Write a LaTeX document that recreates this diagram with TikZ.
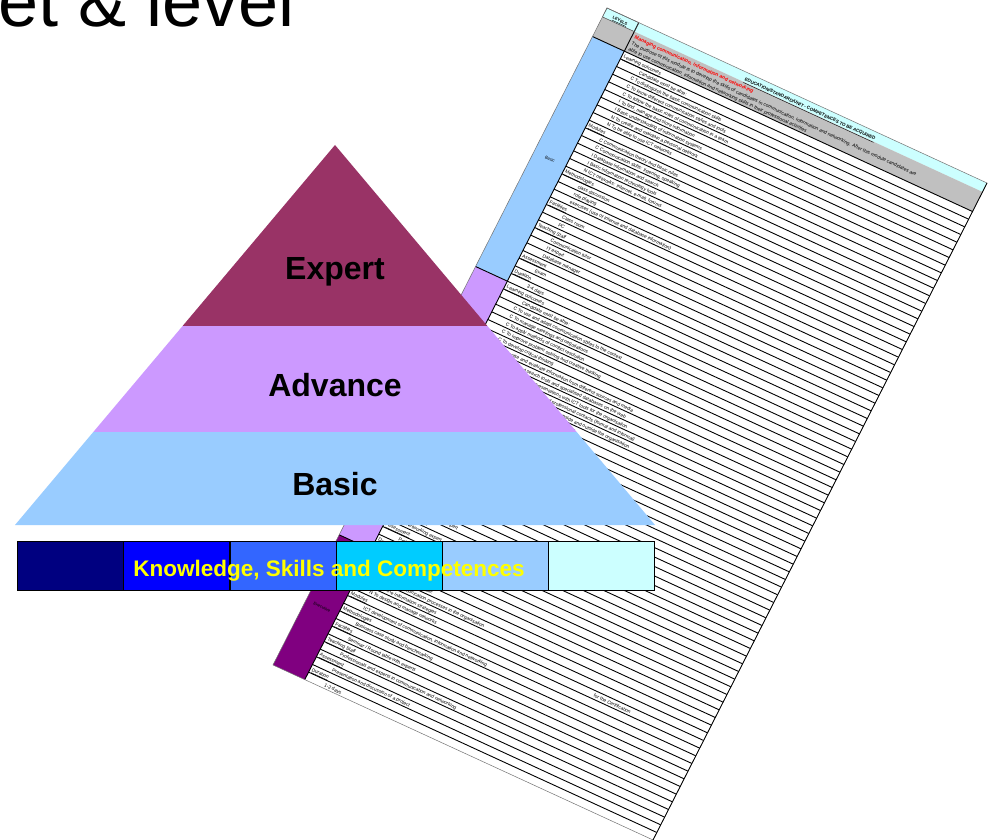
\documentclass[tikz,border=0pt]{standalone}
\usepackage{tikz}
\usepackage{fontspec}
\setmainfont{Liberation Sans}
\definecolor{expertc}{HTML}{993366}
\definecolor{advc}{HTML}{CC99FF}
\definecolor{basicc}{HTML}{99CCFF}
\definecolor{execc}{HTML}{800080}
\definecolor{cyanc}{HTML}{CCFFFF}
\definecolor{grayc}{HTML}{C0C0C0}
\definecolor{barA}{HTML}{000080}
\definecolor{barB}{HTML}{0000FF}
\definecolor{barC}{HTML}{3366FF}
\definecolor{barD}{HTML}{00CCFF}
\definecolor{barE}{HTML}{99CCFF}
\definecolor{barF}{HTML}{CCFFFF}
\definecolor{titleyellow}{HTML}{FFFF00}
\newcommand\shrow[3]{\node[rowtxt] (row#1) at (#2,{32+8.6*#1+6.6}) {#3};}
\begin{document}
\begin{tikzpicture}[x=1pt,y=-1pt,
  rowline/.style={line width=0.9pt, black},
  rowtxt/.style={anchor=base west, inner sep=0pt, font=\fontsize{4.8}{5}\selectfont, text=black},
  lvltxt/.style={anchor=center, inner sep=0pt, font=\fontsize{4.2}{5}\selectfont, text=black},
  pyrlabel/.style={anchor=base, inner sep=0pt, font=\fontsize{32}{36}\selectfont\bfseries, text=black},
  barcell/.style={draw=black, line width=1.2pt, minimum width=106.2pt, minimum height=49pt, inner sep=0pt, anchor=north west},
  bartext/.style={anchor=base, inner sep=0pt, font=\fontsize{22.5}{26}\selectfont\bfseries, text=titleyellow},
  bigtitle/.style={anchor=base east, inner sep=0pt, font=\fontsize{72}{80}\selectfont, text=black}]
\useasboundingbox (0,0) rectangle (988,840);
\fill[white] (0,0) rectangle (988,840);
\clip (0,0) rectangle (988,840);

% ---------- rotated spreadsheet ----------
\begin{scope}[cm={0.9083,-0.4183,0.4532,0.8914,(607,8)}, transform shape]
  \fill[white] (0,0) rectangle (418.4,737);
  \fill[cyanc] (0,0) rectangle (418.4,10);
  \fill[grayc] (0,10) rectangle (418.4,32);
  \fill[basicc] (0,32) rectangle (35,290);
  \fill[advc] (0,290) rectangle (35,591);
  \fill[execc] (0,591) rectangle (35,737);
  \foreach \k in {0,...,81} \draw[rowline] (35,{32+8.6*\k}) -- (418.4,{32+8.6*\k});
  \draw[rowline] (0,32) -- (35,32);
  \draw[rowline] (0,290) -- (35,290);
  \draw[rowline] (0,591) -- (35,591);
  \draw[rowline] (35,0) -- (35,737);
  \draw[line width=0.5pt, black!70] (0,0) rectangle (35,10);
  \draw[line width=0.5pt, black!55] (0,0) rectangle (418.4,737);
  \draw[line width=0.8pt, black] (418.4,0) -- (418.4,737);
  \node[anchor=base, inner sep=0pt, font=\fontsize{4}{5}\selectfont\bfseries] (levels) at (17.5,7.5) {\underline{LEVELS}};
  \node[anchor=base, inner sep=0pt, font=\fontsize{4.5}{5}\selectfont\bfseries] (edutitle) at (227,8.3) {\underline{EDUCATION/STANDARD/UNIT - COMPETENCES TO BE ACQUIRED}};
  \node[anchor=base west, inner sep=0pt, font=\fontsize{5}{6}\selectfont\bfseries, text=red] (modtitle) at (38,16.5) {Managing communication, information and networking};
  \node[anchor=base west, inner sep=0pt, font=\fontsize{4.9}{6}\selectfont] (desca) at (38,23.5) {The purpose of this module is to develop the skills of candidates in communication, information and networking. After this module candidates are};
  \node[anchor=base west, inner sep=0pt, font=\fontsize{4.9}{6}\selectfont] (descb) at (38,30) {able to use communication, information and networking skills in their professional activities};
  \node[lvltxt] (lvlbasic) at (17.5,161) {Basic};
  \node[lvltxt] (lvlexec) at (17.5,664) {Executive};
  % basic
  \shrow{0}{37}{\underline{Learning outcomes}}
  \shrow{1}{58}{Candidate must be able:}
  \shrow{2}{53}{C To distinguish the basic communication skills}
  \shrow{3}{53}{C To know different communication styles and tools}
  \shrow{4}{53}{C To follow the basic rules of communication in a team}
  \shrow{5}{53}{I To find, manage and store information}
  \shrow{6}{53}{I Basic understanding of information systems}
  \shrow{7}{53}{N To create and maintain a personal network}
  \shrow{8}{53}{N To be able to use ICT networks}
  \shrow{9}{37}{\underline{Modules}}
  \shrow{10}{53}{C Communication theory and basic rules}
  \shrow{11}{53}{C Communication skills: listening, speaking}
  \shrow{12}{53}{I Database information and search}
  \shrow{13}{53}{I Basic information technology tools}
  \shrow{14}{53}{N ICT networks: Internet, e-mail, forums}
  \shrow{15}{37}{\underline{Methodologies}}
  \shrow{16}{55}{class discussion}
  \shrow{17}{55}{role playing}
  \shrow{18}{55}{exercises (use of Internet and database information)}
  \shrow{19}{37}{\underline{Facilities}}
  \shrow{20}{55}{Class room}
  \shrow{21}{55}{PC}
  \shrow{22}{37}{\underline{Teaching Staff}}
  \shrow{23}{55}{Communication tutor}
  \shrow{24}{55}{IT expert}
  \shrow{25}{55}{Database manager}
  \shrow{26}{37}{\underline{Assessment}}
  \shrow{27}{55}{Exam}
  \shrow{28}{37}{\underline{Duration}}
  \shrow{29}{55}{3-4 days}
  % advance
  \shrow{30}{37}{\underline{Learning outcomes}}
  \shrow{31}{58}{Candidate must be able:}
  \shrow{32}{53}{C To use and adapt communication styles to the context}
  \shrow{33}{53}{C To manage meetings and negotiations}
  \shrow{34}{53}{C To apply methods of conflict resolution}
  \shrow{35}{53}{C To improve problem solving and creative thinking}
  \shrow{36}{53}{C To develop critical thinking}
  \shrow{37}{53}{I To organise and evaluate information from different sources and media}
  \shrow{38}{53}{I To use advanced search tools and specialised databases on the web}
  \shrow{39}{53}{I To produce reports and presentations with ICT tools for the organisation}
  \shrow{40}{53}{N To build and manage networks of professional contacts (formal and informal)}
  \shrow{41}{53}{N To use collaborative tools for networking inside and outside the organisation}
  \shrow{42}{53}{N To promote the organisation through the networks}
  \shrow{43}{37}{\underline{Modules}}
  \shrow{44}{53}{C Communication in groups and organisations}
  \shrow{45}{53}{C Negotiation and conflict management}
  \shrow{46}{53}{I Information management and knowledge sharing}
  \shrow{47}{53}{I Advanced database and search tools}
  \shrow{48}{53}{N Networking strategies and social networks}
  \shrow{49}{53}{N Collaborative work on the web}
  \shrow{50}{37}{\underline{Methodologies}}
  \shrow{51}{55}{case studies}
  \shrow{52}{55}{simulations and role playing}
  \shrow{53}{55}{project work}
  \shrow{54}{37}{\underline{Facilities}}
  \shrow{55}{55}{Class room}
  \shrow{56}{55}{PC laboratory with Internet access}
  \shrow{57}{37}{\underline{Teaching Staff}}
  \shrow{58}{55}{Communication expert}
  \shrow{59}{55}{IT expert}
  \shrow{60}{55}{Networking expert}
  \shrow{61}{37}{\underline{Assessment}}
  \shrow{62}{55}{Project work / Exam}
  \shrow{63}{37}{\underline{Duration}}
  \shrow{64}{55}{5-6 days}
  % executive
  \shrow{65}{37}{\underline{Learning outcomes}}
  \shrow{66}{58}{Candidate must be able:}
  \shrow{67}{53}{C To lead communication processes in the organisation}
  \shrow{68}{53}{I To define information strategies}
  \shrow{69}{53}{N To design and manage networks}
  \node[rowtxt] (cert) at (300,{32+8.6*69+6.6}) {for the Certification};
  \shrow{70}{37}{\underline{Modules}}
  \shrow{71}{55}{ICT development of communication, information and networking}
  \shrow{72}{37}{\underline{Methodologies}}
  \shrow{73}{55}{Business case study and benchmarking}
  \shrow{74}{37}{\underline{Facilities}}
  \shrow{75}{55}{Seminar / Round table with experts}
  \shrow{76}{37}{\underline{Teaching Staff}}
  \shrow{77}{55}{Professionals and experts in communication and networking}
  \shrow{78}{37}{\underline{Assessment}}
  \shrow{79}{55}{Presentation and discussion of a project}
  \shrow{80}{37}{\underline{Duration}}
  \shrow{81}{55}{1-2 days}
\end{scope}

% ---------- pyramid ----------
\coordinate (pA) at (335,145);
\coordinate (pL) at (15,525);
\coordinate (pR) at (655,525);
\coordinate (pL1) at (182.6,326);
\coordinate (pR1) at (487.4,326);
\coordinate (pL2) at (93.3,432);
\coordinate (pR2) at (576.7,432);
\fill[expertc] (pA) -- (pR1) -- (pL1) -- cycle;
\fill[advc] (pL1) -- (pR1) -- (pR2) -- (pL2) -- cycle;
\fill[basicc] (pL2) -- (pR2) -- (pR) -- (pL) -- cycle;
\node[pyrlabel] (expert) at (335,279.5) {Expert};
\node[pyrlabel] (advance) at (335,396) {Advance};
\node[pyrlabel] (basic) at (335,495) {Basic};

% ---------- colour bar ----------
\node[barcell, fill=barA] (cA) at (17,541) {};
\node[barcell, fill=barB] (cB) at (123.2,541) {};
\node[barcell, fill=barC] (cC) at (229.4,541) {};
\node[barcell, fill=barD] (cD) at (335.6,541) {};
\node[barcell, fill=barE] (cE) at (441.8,541) {};
\node[barcell, fill=barF] (cF) at (548,541) {};
\node[bartext] (ksc) at (329,576) {Knowledge, Skills and Competences};

% ---------- title ----------
\node[bigtitle] (title) at (295,27) {et \& level};
\end{tikzpicture}
\end{document}
